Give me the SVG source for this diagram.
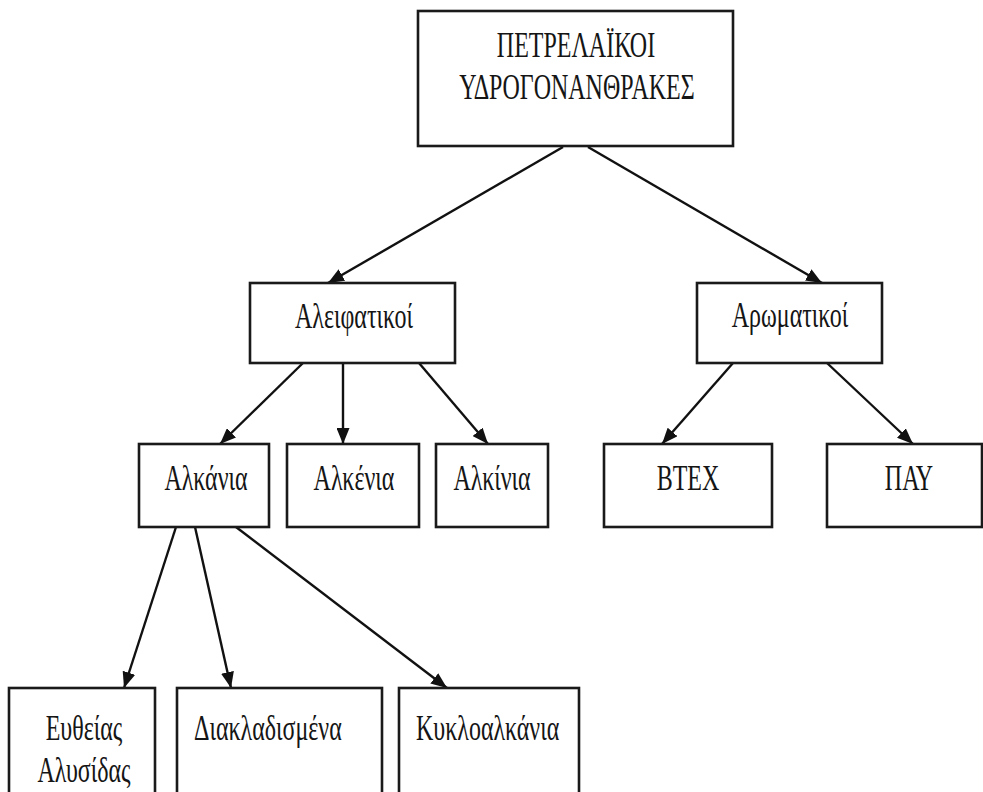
<svg xmlns="http://www.w3.org/2000/svg" width="983" height="792" viewBox="0 0 983 792">
  <defs>
    <style>
      .box { fill: #ffffff; stroke: #1a1a1a; stroke-width: 2.6; }
      .lbl { font-family: "Liberation Serif", "Times New Roman", serif; font-size: 24px; fill: #151515; text-anchor: middle; }
      .lbl-start { text-anchor: start; }
      .edge { stroke: #111111; stroke-width: 2.4; fill: none; marker-end: url(#arrow); }
    </style>
    <marker id="arrow" markerUnits="userSpaceOnUse" markerWidth="16" markerHeight="13" refX="16" refY="6.5" orient="auto">
      <path d="M0,0 L16,6.5 L0,13 z" fill="#111111"/>
    </marker>
  </defs>

  <rect width="983" height="792" fill="#ffffff"/>

  <!-- connectors -->
  <g id="connectors">
    <line class="edge" x1="563" y1="147" x2="328" y2="283"/>
    <line class="edge" x1="588" y1="147" x2="822" y2="283"/>
    <line class="edge" x1="303" y1="363" x2="220" y2="444"/>
    <line class="edge" x1="343" y1="363" x2="343" y2="444"/>
    <line class="edge" x1="419" y1="363" x2="488" y2="444"/>
    <line class="edge" x1="733" y1="363" x2="662" y2="444"/>
    <line class="edge" x1="827" y1="363" x2="913" y2="444"/>
    <line class="edge" x1="176" y1="527" x2="124" y2="688"/>
    <line class="edge" x1="195" y1="527" x2="231" y2="688"/>
    <line class="edge" x1="236" y1="527" x2="447" y2="688"/>
  </g>

  <!-- root -->
  <g id="node-petrelaikoi">
    <rect class="box" x="418" y="11" width="315" height="135"/>
    <text class="lbl" transform="translate(576,57) scale(1,1.45)">ΠΕΤΡΕΛΑΪΚΟΙ</text>
    <text class="lbl" transform="translate(577,99) scale(1,1.45)">ΥΔΡΟΓΟΝΑΝΘΡΑΚΕΣ</text>
  </g>

  <!-- second level -->
  <g id="node-aleifatikoi">
    <rect class="box" x="250" y="283" width="205" height="80"/>
    <text class="lbl" transform="translate(354,328) scale(1,1.45)">Αλειφατικοί</text>
  </g>
  <g id="node-aromatikoi">
    <rect class="box" x="697" y="283" width="185" height="80"/>
    <text class="lbl" transform="translate(790,327) scale(1,1.45)">Αρωματικοί</text>
  </g>

  <!-- third level -->
  <g id="node-alkania">
    <rect class="box" x="139" y="444" width="130" height="83"/>
    <text class="lbl" transform="translate(206,490) scale(1,1.45)">Αλκάνια</text>
  </g>
  <g id="node-alkenia">
    <rect class="box" x="287" y="444" width="132" height="83"/>
    <text class="lbl" transform="translate(354,490) scale(1,1.45)">Αλκένια</text>
  </g>
  <g id="node-alkinia">
    <rect class="box" x="436" y="444" width="112" height="83"/>
    <text class="lbl" transform="translate(492,490) scale(1,1.45)">Αλκίνια</text>
  </g>
  <g id="node-btex">
    <rect class="box" x="604" y="444" width="168" height="83"/>
    <text class="lbl" transform="translate(688,490) scale(1,1.45)">BTEX</text>
  </g>
  <g id="node-pay">
    <rect class="box" x="827" y="444" width="155" height="83"/>
    <text class="lbl" transform="translate(909,490) scale(1,1.45)">ΠΑΥ</text>
  </g>

  <!-- fourth level -->
  <g id="node-eutheias">
    <rect class="box" x="9" y="688" width="146" height="120"/>
    <text class="lbl" transform="translate(84,740) scale(1,1.45)">Ευθείας</text>
    <text class="lbl" transform="translate(84,782) scale(1,1.45)">Αλυσίδας</text>
  </g>
  <g id="node-diakladismena">
    <rect class="box" x="177" y="688" width="205" height="120"/>
    <text class="lbl lbl-start" transform="translate(194,740) scale(1,1.45)">Διακλαδισμένα</text>
  </g>
  <g id="node-kykloalkania">
    <rect class="box" x="399" y="688" width="180" height="120"/>
    <text class="lbl lbl-start" transform="translate(416,740) scale(1,1.45)">Κυκλοαλκάνια</text>
  </g>
</svg>
